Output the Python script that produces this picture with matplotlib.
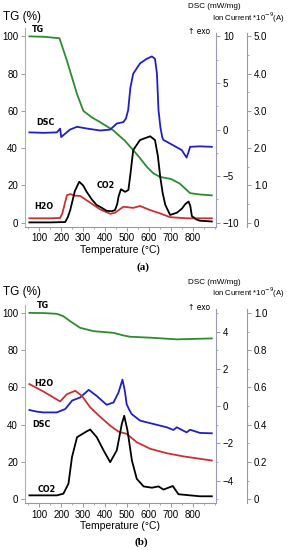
import numpy as np
import matplotlib
matplotlib.use('Agg')
from matplotlib import pyplot as plt
from matplotlib.ticker import MultipleLocator

plt.rcParams['font.family'] = ['Liberation Sans', 'DejaVu Sans']

## ---- panel (a) data ----
# TG in %
a_tg_T = [55, 120, 192, 226, 272, 301, 340, 377, 437, 445, 490, 528, 560, 590, 620, 650, 700, 740, 787, 830, 886]
a_tg = [100, 99.8, 99, 87, 69, 60, 56.5, 54, 49.6, 48.7, 44, 39, 34.5, 30, 26.5, 24.6, 23.5, 21, 15.9, 15.2, 14.7]
# DSC in mW/mg
a_dsc_T = [55, 120, 180, 195, 200, 215, 240, 272, 320, 377, 423, 453, 483, 495, 505, 515, 528, 559, 590, 613, 627,
           636, 643, 652, 660, 665, 711, 749, 771, 780, 787, 832, 886]
a_dsc = [-0.3, -0.35, -0.3, 0.1, -0.8, -0.5, 0.0, 0.3, 0.1, -0.1, 0.0, 0.65, 0.8, 1.2, 2.1, 4.5, 6.0, 7.1, 7.6, 7.85, 7.6,
         6.0, 2.1, 0.2, -0.8, -1.1, -1.7, -2.2, -3.0, -2.4, -1.85, -1.8, -1.85]
# ion current CO2 and H2O (*1e-9 A)
a_co2_T = [55, 150, 218, 230, 241, 262, 282, 300, 316, 340, 361, 385, 407, 430, 445, 455, 461, 472, 491, 506, 515,
           528, 545, 559, 605, 627, 640, 651, 662, 674, 696, 727, 750, 765, 780, 788, 795, 815, 832, 886]
a_co2 = [0.01, 0.01, 0.02, 0.15, 0.34, 0.85, 1.10, 1.0, 0.83, 0.62, 0.48, 0.40, 0.32, 0.31, 0.34, 0.5, 0.70, 0.90, 0.83, 0.88, 1.3,
         1.95, 2.1, 2.22, 2.32, 2.22, 1.8, 1.23, 0.8, 0.48, 0.21, 0.27, 0.38, 0.5, 0.57, 0.45, 0.18, 0.09, 0.055, 0.035]
a_h2o_T = [55, 150, 195, 205, 226, 241, 260, 286, 332, 377, 423, 445, 483, 528, 559, 605, 651, 696, 771, 886]
a_h2o = [0.12, 0.12, 0.13, 0.25, 0.74, 0.77, 0.73, 0.72, 0.54, 0.36, 0.24, 0.27, 0.43, 0.40, 0.45, 0.34, 0.25, 0.15, 0.12, 0.12]

## ---- panel (b) data ----
b_tg_T = [55, 120, 180, 210, 240, 286, 347, 438, 480, 513, 605, 727, 886]
b_tg = [100, 99.9, 99.5, 98.2, 95.6, 92, 90.2, 89.3, 88, 87.2, 86.7, 85.8, 86.3]
b_dsc_T = [55, 90, 119, 180, 218, 250, 286, 325, 361, 407, 438, 461, 479, 490, 498, 510, 521, 559, 620, 681, 711, 727,
           771, 787, 832, 886]
b_dsc = [-0.21, -0.3, -0.34, -0.34, -0.16, 0.3, 0.46, 0.87, 0.55, 0.07, 0.19, 0.73, 1.42, 0.8, 0.1, -0.2, -0.43, -0.78, -0.96, -1.14, -1.28, -1.14,
         -1.41, -1.27, -1.44, -1.46]
b_h2o_T = [55, 119, 165, 195, 226, 264, 294, 332, 377, 423, 461, 498, 544, 605, 681, 757, 886]
b_h2o = [0.618, 0.578, 0.546, 0.525, 0.564, 0.582, 0.555, 0.493, 0.443, 0.395, 0.363, 0.351, 0.306, 0.271, 0.247, 0.23, 0.208]
b_co2_T = [55, 180, 210, 233, 249, 272, 317, 332, 362, 393, 423, 453, 476, 487, 502, 522, 544, 575, 613, 643, 666, 708,
           734, 832, 886]
b_co2 = [0.021, 0.021, 0.030, 0.084, 0.226, 0.333, 0.365, 0.374, 0.333, 0.262, 0.199, 0.262, 0.404, 0.448, 0.368, 0.208, 0.11, 0.069, 0.062, 0.069, 0.052, 0.071,
         0.027, 0.016, 0.016]

green = '#2e8b2e'
blue = '#1f1fc8'
red = '#cc3030'

W, H = 287, 550
fig = plt.figure(figsize=(W / 100, H / 100), dpi=100)


def fx(x):
    return x / W


def fy(y):
    return 1 - y / H


def panel(bottom_px, dsc_lim, dsc_major, dsc_minor, ion_lim, ion_minor):
    ax = fig.add_axes([fx(25), fy(bottom_px), fx(216) - fx(25), 198.5 / H])
    ax.set_xlim(35, 905)
    ax.set_ylim(-2, 104.5)
    ax.spines['top'].set_visible(False)
    ax.spines['right'].set_visible(False)
    ax.spines['left'].set_color('#8fc78f')
    ax.spines['bottom'].set_color('#999999')
    ax.xaxis.set_minor_locator(MultipleLocator(50))
    ax.yaxis.set_major_locator(MultipleLocator(20))
    ax.set_xticks(range(100, 900, 100))
    ax.tick_params(labelsize=7, length=3, width=0.6, color='#888888', pad=2)
    ax.tick_params(which='minor', length=1.5, width=0.5, color='#888888')
    ax.set_xlabel('Temperature (°C)', fontsize=7.5, labelpad=1)

    a2 = ax.twinx()
    a2.set_ylim(*dsc_lim)
    for s in ['top', 'left', 'bottom']:
        a2.spines[s].set_visible(False)
    a2.spines['right'].set_color('#9a9ab8')
    a2.spines['right'].set_bounds(dsc_lim[0], dsc_lim[0] + (dsc_lim[1] - dsc_lim[0]) * 0.975)
    a2.yaxis.set_major_locator(MultipleLocator(dsc_major))
    a2.yaxis.set_minor_locator(MultipleLocator(dsc_minor))
    a2.set_yticks([v for v in a2.get_yticks() if dsc_lim[0] < v < dsc_lim[1]])
    a2.tick_params(labelsize=7, length=3, width=0.6, color='#888888', pad=2)
    a2.tick_params(which='minor', length=1.5, width=0.5, color='#888888')

    a3 = ax.twinx()
    a3.set_ylim(*ion_lim)
    for s in ['top', 'left', 'bottom']:
        a3.spines[s].set_visible(False)
    a3.spines['right'].set_position(('axes', (247 - 25) / 191))
    a3.spines['right'].set_color('#999999')
    a3.spines['right'].set_bounds(ion_lim[0], ion_lim[0] + (ion_lim[1] - ion_lim[0]) * 0.975)
    a3.yaxis.set_minor_locator(MultipleLocator(ion_minor))
    a3.tick_params(labelsize=7, length=3, width=0.6, color='#888888', pad=2)
    a3.tick_params(which='minor', length=1.5, width=0.5, color='#888888')
    return ax, a2, a3


def header(top_px):
    fig.text(fx(3), fy(top_px + 17), 'TG (%)', fontsize=8.5, va='center')
    fig.text(fx(188), fy(top_px + 7), 'DSC (mW/mg)', fontsize=5.9, va='center')
    fig.text(fx(212), fy(top_px + 17.5), 'Ion Current *10$^{-9}$(A)', fontsize=5.6, va='center')
    fig.text(fx(188), fy(top_px + 32), '↑ exo', fontsize=5.5, va='center', family=['DejaVu Sans'])


lab = dict(fontsize=5.8, fontweight='bold', ha='center', va='center', family=['DejaVu Sans'])

## ---- (a) ----
ax, a2, a3 = panel(226.5, (-10.4, 10.9), 5, 2.5, (-0.1, 5.225), 0.5)
a3.set_yticks([0, 1, 2, 3, 4, 5])
a3.set_yticklabels(['0', '1.0', '2.0', '3.0', '4.0', '5.0'])
lw = 1.3
ax.plot(a_tg_T, a_tg, color=green, lw=lw)
a2.plot(a_dsc_T, a_dsc, color=blue, lw=lw)
a3.plot(a_h2o_T, a_h2o, color=red, lw=lw)
a3.plot(a_co2_T, a_co2, color='black', lw=lw)
ax.text(95, 103.7, 'TG', **lab)
ax.text(128, 54, 'DSC', **lab)
ax.text(404, 20.2, 'CO2', **lab)
ax.text(122, 8.6, 'H2O', **lab)
header(0)
fig.text(fx(143), fy(267), '(a)', fontsize=8, ha='center', va='center', family=['Liberation Serif'], fontweight='bold')

## ---- (b) ----
ax, a2, a3 = panel(503, (-5.2, 5.45), 2, 1, (-0.02, 1.045), 0.1)
a3.set_yticks([0, 0.2, 0.4, 0.6, 0.8, 1.0])
a3.set_yticklabels(['0', '0.2', '0.4', '0.6', '0.8', '1.0'])
ax.plot(b_tg_T, b_tg, color=green, lw=lw)
a2.plot(b_dsc_T, b_dsc, color=blue, lw=lw)
a3.plot(b_h2o_T, b_h2o, color=red, lw=lw)
a3.plot(b_co2_T, b_co2, color='black', lw=lw)
ax.text(116, 104, 'TG', **lab)
ax.text(119, 62, 'H2O', **lab)
ax.text(111, 40, 'DSC', **lab)
ax.text(134, 5.2, 'CO2', **lab)
header(275)
fig.text(fx(141), fy(542), '(b)', fontsize=8, ha='center', va='center', family=['Liberation Serif'], fontweight='bold')

fig.savefig('out.png', dpi=100)
